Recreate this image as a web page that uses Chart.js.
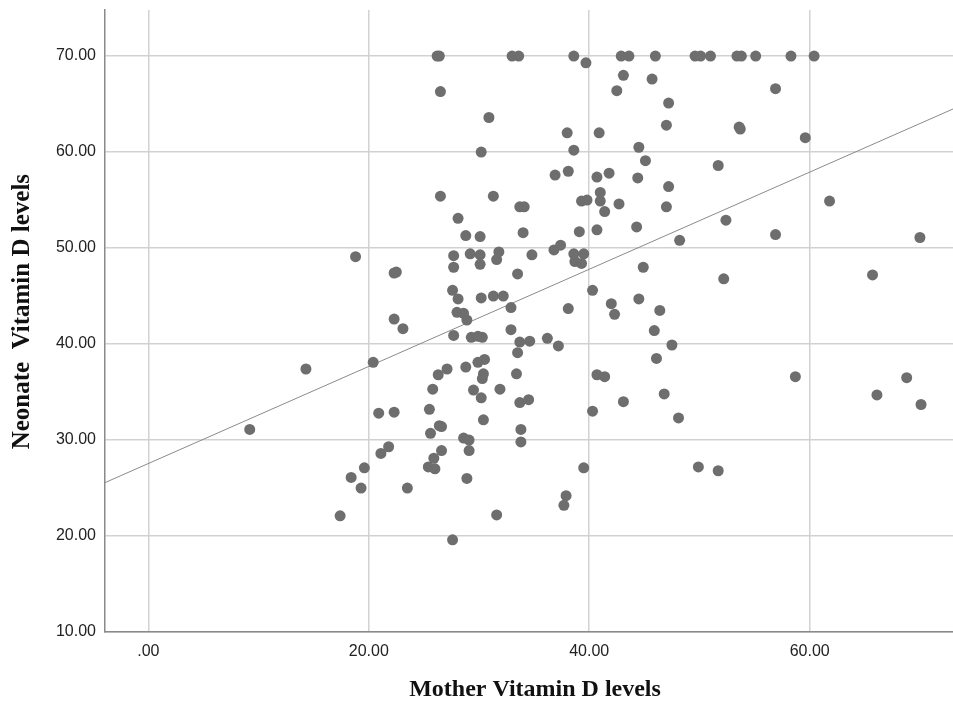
<!DOCTYPE html>
<html>
<head>
<meta charset="utf-8">
<script src="https://cdn.jsdelivr.net/npm/chart.js@4.4.1/dist/chart.umd.min.js"></script>
<style>
body { margin: 0; background: #fff; }
</style>
</head>
<body>
<canvas id="grafico" width="953" height="704"></canvas>
<script>
// mother (x) and neonate (y) vitamin D levels
var motherLevels = [
    9.2, 14.3, 18.8, 20.4, 17.4, 18.4, 19.3, 19.6, 20.9, 21.1,
    21.8, 22.3, 22.3, 22.5, 22.3, 23.1, 23.5, 26.4, 26.2, 26.5,
    26.5, 28.1, 28.8, 29.2, 27.7, 27.7, 27.6, 28.1, 28.0, 28.6,
    28.9, 27.7, 28.8, 27.1, 26.3, 25.8, 25.5, 26.4, 26.6, 25.6,
    28.6, 29.1, 29.1, 26.6, 25.9, 25.4, 26.0, 28.9, 27.6, 33.0,
    33.6, 38.6, 39.7, 42.9, 43.6, 46.0, 43.1, 45.7, 42.5, 47.2,
    47.0, 30.9, 38.0, 40.9, 38.6, 30.2, 44.5, 45.1, 36.9, 38.1,
    40.7, 41.8, 44.4, 47.2, 31.3, 33.7, 34.1, 41.0, 39.3, 39.8,
    41.0, 41.4, 42.7, 47.0, 44.3, 40.7, 39.1, 34.0, 30.1, 48.2,
    30.1, 30.1, 31.8, 31.6, 34.8, 36.8, 37.4, 38.6, 39.5, 38.7,
    39.3, 33.5, 44.9, 40.3, 42.0, 42.3, 44.5, 46.4, 45.9, 47.5,
    30.2, 31.3, 32.2, 32.9, 38.1, 32.9, 29.3, 29.9, 30.3, 33.7,
    34.6, 36.2, 37.2, 33.5, 29.9, 30.5, 30.4, 30.3, 33.4, 31.9,
    29.5, 30.2, 40.7, 41.4, 46.1, 46.8, 43.1, 33.7, 34.5, 40.3,
    48.1, 30.4, 33.8, 33.8, 39.5, 37.9, 37.7, 31.6,
    49.6, 50.1, 51.0, 53.4, 53.8, 55.1, 58.3, 60.4,
    56.9, 53.6, 53.7, 59.6, 51.7, 61.8, 52.4, 56.9, 70.0, 52.2,
    65.7, 58.7, 68.8, 66.1, 70.1, 49.9, 51.7
];
var neonateLevels = [
    31.1, 37.4, 49.1, 38.1, 22.1, 26.1, 25.0, 27.1, 32.8, 28.6,
    29.3, 32.9, 47.4, 47.5, 42.6, 41.6, 25.0, 70, 70, 66.3,
    55.4, 53.1, 51.3, 49.4, 49.2, 48.0, 45.6, 44.7, 43.3, 43.2,
    42.5, 40.9, 37.6, 37.4, 36.8, 35.3, 33.2, 31.5, 31.4, 30.7,
    30.2, 30.0, 28.9, 28.9, 28.1, 27.2, 27.0, 26.0, 19.6, 70,
    70, 70, 69.3, 70, 70, 70, 68.0, 67.6, 66.4, 65.1,
    62.8, 63.6, 62.0, 62.0, 60.2, 60.0, 60.5, 59.1, 57.6, 58.0,
    57.4, 57.8, 57.3, 56.4, 55.4, 54.3, 54.3, 55.8, 54.9, 55.0,
    54.9, 53.8, 54.6, 54.3, 52.2, 51.9, 51.7, 51.6, 51.2, 50.8,
    49.3, 48.3, 49.6, 48.8, 49.3, 49.8, 50.3, 49.4, 49.4, 48.6,
    48.4, 47.3, 48.0, 45.6, 44.2, 43.1, 44.7, 43.5, 41.4, 39.9,
    44.8, 45.0, 45.0, 43.8, 43.7, 41.5, 40.7, 40.8, 40.7, 40.2,
    40.3, 40.6, 39.8, 39.1, 38.1, 38.4, 36.9, 36.4, 36.9, 35.3,
    35.2, 34.4, 36.8, 36.6, 38.5, 34.8, 34.0, 33.9, 34.2, 33.0,
    32.3, 32.1, 31.1, 29.8, 27.1, 24.2, 23.2, 22.2,
    70, 70, 70, 70, 70, 70, 70, 70,
    66.6, 62.6, 62.4, 61.5, 58.6, 54.9, 52.9, 51.4, 51.1, 46.8,
    47.2, 36.6, 36.5, 34.7, 33.7, 27.2, 26.8
];

var xTicks = [0, 20, 40, 60];
var yTicks = [10, 20, 30, 40, 50, 60, 70];
var xMin = -3.93, xMax = 73.0;
var yMin = 10, yMax = 74.8;

// fit line (linear regression shown on the chart)
var fitIntercept = 27.55;
var fitSlope = 0.506;

var pontos = [];
for (var i = 0; i < motherLevels.length; i++) {
    pontos.push({ x: motherLevels[i], y: neonateLevels[i] });
}
var reta = [
    { x: xMin, y: fitIntercept + fitSlope * xMin },
    { x: xMax, y: fitIntercept + fitSlope * xMax }
];

function fmt(v) {
    return v === 0 ? '.00' : v.toFixed(2);
}

var ctx = document.getElementById('grafico');
var myChart = new Chart(ctx, {
    type: 'scatter',
    data: {
        datasets: [
            {
                label: 'Fit',
                type: 'line',
                data: reta,
                borderColor: '#8a8a8a',
                borderWidth: 1,
                pointRadius: 0,
                fill: false,
                order: 2
            },
            {
                label: 'Neonate x Mother',
                data: pontos,
                backgroundColor: '#6e6e6e',
                borderWidth: 0,
                pointRadius: 5.5,
                order: 1
            }
        ]
    },
    options: {
        responsive: false,
        animation: false,
        devicePixelRatio: 1,
        layout: {
            autoPadding: false,
            padding: { top: 10, right: 0, left: 0, bottom: 0 }
        },
        plugins: {
            legend: { display: false },
            tooltip: { enabled: false }
        },
        scales: {
            x: {
                type: 'linear',
                min: xMin,
                max: xMax,
                afterBuildTicks: function (axis) {
                    axis.ticks = xTicks.map(function (v) { return { value: v }; });
                },
                afterFit: function (axis) {
                    axis.height = 72;
                    axis.paddingLeft = 0;
                    axis.paddingRight = 0;
                },
                grid: { color: '#d2d2d2', lineWidth: 1.5, drawTicks: false },
                border: { color: '#8a8a8a', width: 1.5 },
                ticks: {
                    padding: 10,
                    color: '#222',
                    font: { family: 'Liberation Sans', size: 16 },
                    callback: fmt
                },
                title: {
                    display: true,
                    text: '  Mother Vitamin D levels',
                    color: '#111',
                    font: { family: 'Liberation Serif', size: 24, weight: 'bold' },
                    padding: { top: 0, bottom: 0 }
                }
            },
            y: {
                type: 'linear',
                min: yMin,
                max: yMax,
                afterBuildTicks: function (axis) {
                    axis.ticks = yTicks.map(function (v) { return { value: v }; });
                },
                afterFit: function (axis) {
                    axis.width = 105;
                    axis.paddingTop = 0;
                    axis.paddingBottom = 0;
                },
                grid: { color: '#d2d2d2', lineWidth: 1.5, drawTicks: false },
                border: { color: '#8a8a8a', width: 1.5 },
                ticks: {
                    padding: 9,
                    color: '#222',
                    font: { family: 'Liberation Sans', size: 16 },
                    callback: fmt
                },
                title: {
                    display: true,
                    text: '   Neonate  Vitamin D levels',
                    color: '#111',
                    font: { family: 'Liberation Serif', size: 25, weight: 'bold' },
                    padding: { top: 8, bottom: 0 }
                }
            }
        }
    }
});
</script>
</body>
</html>
